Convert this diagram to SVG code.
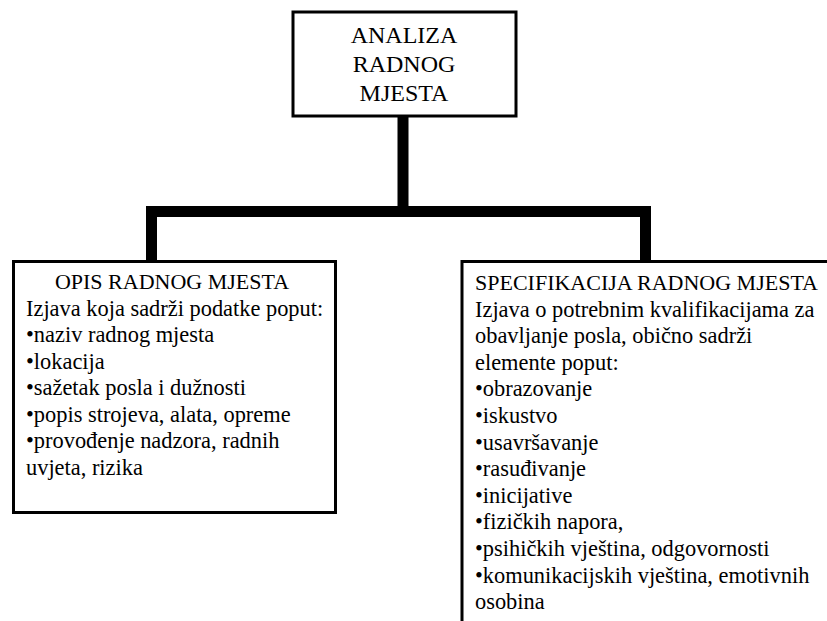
<svg xmlns="http://www.w3.org/2000/svg" width="827" height="621" viewBox="0 0 827 621" font-family="'Liberation Serif', 'Times New Roman', Times, serif">
<style>
.box{fill:#fff;stroke:#000;stroke-width:3}
.conn{fill:none;stroke:#000;stroke-width:11;stroke-linejoin:miter;stroke-linecap:butt}
.t{font-family:'Liberation Serif','Times New Roman',Times,serif;font-size:24px;text-anchor:middle;fill:#000}
.h{font-family:'Liberation Serif','Times New Roman',Times,serif;font-size:22px;fill:#000}
.b{font-family:'Liberation Serif','Times New Roman',Times,serif;font-size:22.4px;fill:#000}
</style>
<rect width="827" height="621" fill="#fff"/>
<g id="connectors">
<path class="conn" d="M151.5,261 V211.5 H645.5 V261"/>
<path class="conn" d="M403,117 V211.5"/>
</g>
<g id="analiza">
<rect class="box" x="293" y="12" width="223" height="104"/>
<text class="t" x="404" y="43">ANALIZA</text>
<text class="t" x="404" y="72">RADNOG</text>
<text class="t" x="404" y="101">MJESTA</text>
</g>
<g id="opis">
<rect class="box" x="13.5" y="261.5" width="322" height="251"/>
<text class="h" x="172" y="289" text-anchor="middle">OPIS RADNOG MJESTA</text>
<text class="b" x="26" y="315.5">Izjava koja sadrži podatke poput:</text>
<text class="b" x="26" y="342">•naziv radnog mjesta</text>
<text class="b" x="26" y="368.5">•lokacija</text>
<text class="b" x="26" y="395">•sažetak posla i dužnosti</text>
<text class="b" x="26" y="421.5">•popis strojeva, alata, opreme</text>
<text class="b" x="26" y="448">•provođenje nadzora, radnih</text>
<text class="b" x="26" y="474.5">uvjeta, rizika</text>
</g>
<g id="specifikacija">
<rect class="box" x="462" y="261.5" width="380" height="380"/>
<text class="h" x="475" y="290">SPECIFIKACIJA RADNOG MJESTA</text>
<text class="b" x="475" y="316.6">Izjava o potrebnim kvalifikacijama za</text>
<text class="b" x="475" y="343.2">obavljanje posla, obično sadrži</text>
<text class="b" x="475" y="369.8">elemente poput:</text>
<text class="b" x="475" y="396.4">•obrazovanje</text>
<text class="b" x="475" y="423">•iskustvo</text>
<text class="b" x="475" y="449.6">•usavršavanje</text>
<text class="b" x="475" y="476.2">•rasuđivanje</text>
<text class="b" x="475" y="502.8">•inicijative</text>
<text class="b" x="475" y="529.4">•fizičkih napora,</text>
<text class="b" x="475" y="556">•psihičkih vještina, odgovornosti</text>
<text class="b" x="475" y="582.6">•komunikacijskih vještina, emotivnih</text>
<text class="b" x="475" y="609.2">osobina</text>
</g>
</svg>
